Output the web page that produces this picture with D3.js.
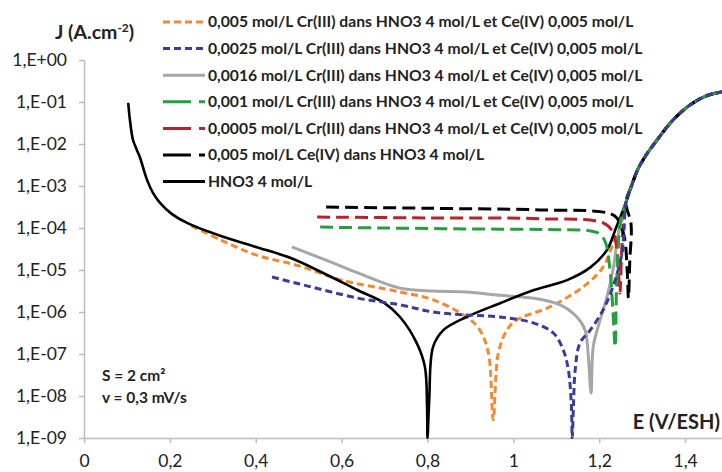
<!DOCTYPE html>
<html><head><meta charset="utf-8">
<script src="https://cdn.jsdelivr.net/npm/d3@7"></script>
<style>body{margin:0;background:#fff}svg{display:block}</style>
</head><body><svg id="c" width="722" height="472"></svg>
<script>
// ---- data (E in V/ESH, J in A/cm2) ----
const xTicks = [0, 0.2, 0.4, 0.6, 0.8, 1, 1.2, 1.4];
const xTickLabels = ["0", "0,2", "0,4", "0,6", "0,8", "1", "1,2", "1,4"];
const yTicks = [1, 1e-1, 1e-2, 1e-3, 1e-4, 1e-5, 1e-6, 1e-7, 1e-8, 1e-9];
const yTickLabels = ["1,E+00", "1,E-01", "1,E-02", "1,E-03", "1,E-04", "1,E-05", "1,E-06", "1,E-07", "1,E-08", "1,E-09"];

const seriesNames = [
  "0,005 mol/L Cr(III) dans HNO3 4 mol/L et Ce(IV) 0,005 mol/L",
  "0,0025 mol/L Cr(III) dans HNO3 4 mol/L et Ce(IV) 0,005 mol/L",
  "0,0016 mol/L Cr(III) dans HNO3 4 mol/L et Ce(IV) 0,005 mol/L",
  "0,001 mol/L Cr(III) dans HNO3 4 mol/L et Ce(IV) 0,005 mol/L",
  "0,0005 mol/L Cr(III) dans HNO3 4 mol/L et Ce(IV) 0,005 mol/L",
  "0,005 mol/L Ce(IV) dans HNO3 4 mol/L",
  "HNO3 4 mol/L"
];

// shared anodic branch
const anodicE = [1.262, 1.275, 1.29, 1.31, 1.335, 1.37, 1.41, 1.45, 1.49, 1.53];
const anodicJ = [3.98e-4, 1e-3, 2.51e-3, 5.62e-3, 1.26e-2, 3.55e-2, 8.3e-2, 1.41e-1, 1.78e-1, 2.1e-1];

const cr005E = [0.25, 0.32, 0.40, 0.50, 0.60, 0.736, 0.813, 0.891, 0.922, 0.942, 0.953, 0.965, 0.985, 1.008, 1.085, 1.163, 1.209, 1.233, 1.249];
const cr005J = [1.12e-4, 5.1e-5, 2.29e-5, 1.26e-5, 5.75e-6, 3.0e-6, 1.95e-6, 7.6e-7, 3.7e-7, 1.05e-7, 2.7e-9, 1.05e-7, 3.7e-7, 6.5e-7, 1.32e-6, 4.0e-6, 1.17e-5, 4.4e-5, 1.07e-4];

const cr0025E = [0.438, 0.50, 0.638, 0.736, 0.813, 0.891, 0.969, 1.046, 1.093, 1.116, 1.128, 1.135, 1.137, 1.140, 1.144, 1.155, 1.179, 1.209, 1.232, 1.253, 1.258];
const cr0025J = [6.8e-6, 4.7e-6, 2.14e-6, 1.48e-6, 1.0e-6, 8.5e-7, 7.6e-7, 5.5e-7, 3.16e-7, 1.26e-7, 4.2e-8, 6.3e-9, 1e-9, 6.3e-9, 4.2e-8, 1.82e-7, 3.7e-7, 1.12e-6, 4.0e-6, 2.5e-5, 1e-4];

const cr0016E = [0.484, 0.58, 0.638, 0.736, 0.813, 0.891, 0.969, 1.046, 1.109, 1.148, 1.167, 1.174, 1.181, 1.186, 1.202, 1.218, 1.232, 1.242, 1.252];
const cr0016J = [3.55e-5, 1.48e-5, 8.5e-6, 3.7e-6, 3.16e-6, 3.0e-6, 2.5e-6, 2.14e-6, 1.48e-6, 7.6e-7, 3.7e-7, 1.05e-7, 1.17e-8, 1.48e-7, 6.5e-7, 2.3e-6, 1e-5, 5.1e-5, 1.58e-4];

const cr001E = [0.55, 0.70, 0.90, 1.10, 1.18, 1.202, 1.215, 1.225, 1.232, 1.237, 1.240, 1.244, 1.25];
const cr001J = [1.05e-4, 1e-4, 9.5e-5, 9.1e-5, 8.5e-5, 7.1e-5, 4.4e-5, 1e-5, 1e-6, 1.48e-7, 3.16e-6, 3.16e-5, 1.58e-4];

const cr0005E = [0.543, 0.80, 1.062, 1.209, 1.232, 1.242, 1.248, 1.252, 1.256];
const cr0005J = [1.82e-4, 1.74e-4, 1.66e-4, 1.32e-4, 7.9e-5, 2.5e-5, 2.8e-6, 2.5e-5, 1.26e-4];

const ceE = [0.564, 0.80, 1.062, 1.218, 1.241, 1.258, 1.265, 1.268, 1.271, 1.274];
const ceJ = [3.16e-4, 2.95e-4, 2.7e-4, 2.3e-4, 1.74e-4, 6.3e-5, 1e-5, 2.14e-6, 1.58e-5, 1.26e-4];

const hno3E = [0.103, 0.107, 0.114, 0.123, 0.13, 0.147, 0.161, 0.177, 0.205, 0.24, 0.324, 0.40, 0.48, 0.557, 0.638, 0.70, 0.736, 0.775, 0.794, 0.799, 0.80, 0.804, 0.813, 0.837, 0.891, 0.969, 1.046, 1.125, 1.18, 1.218, 1.24];
const hno3J = [9.55e-2, 3.72e-2, 1.26e-2, 7.24e-3, 4.9e-3, 1.38e-3, 6.76e-4, 3.98e-4, 2.14e-4, 1.32e-4, 6.17e-5, 3.55e-5, 1.95e-5, 8.5e-6, 3.3e-6, 1.62e-6, 7.6e-7, 1.82e-7, 4.9e-8, 5e-9, 1e-9, 7.9e-9, 1.48e-7, 3.7e-7, 7.6e-7, 1.62e-6, 3.3e-6, 5.75e-6, 1.17e-5, 3.0e-5, 1.07e-4];

const seriesColors = ["#f5892f", "#3b3b9c", "#a6a6a6", "#22a03c", "#b8232a", "#000000", "#000000"];

// ---- build ----
const svg = d3.select("#c");
const x = d3.scaleLinear().domain([0, 1.6]).range([84, 771]);
const y = d3.scaleLog().domain([1e-9, 1]).range([438, 60]);
const FONT = "Lato, 'Open Sans', sans-serif";

const styles = [
  {w: 3, dash: "7,4", legDash: "7,4"},
  {w: 3, dash: "7,4", legDash: "7,4"},
  {w: 3, dash: null, legDash: null},
  {w: 3, dash: "13,6", legDash: "28,8"},
  {w: 3, dash: "13,6", legDash: "28,8"},
  {w: 3, dash: "13,6", legDash: "28,8"},
  {w: 2.6, dash: null, legDash: null}
];

const seriesE = [cr005E, cr0025E, cr0016E, cr001E, cr0005E, ceE, hno3E];
const seriesJ = [cr005J, cr0025J, cr0016J, cr001J, cr0005J, ceJ, hno3J];

// axes
const axisCol = "#bdbdbd";
const yAxis = d3.axisLeft(y).tickValues(yTicks).tickFormat((d, i) => yTickLabels[i]).tickSize(5).tickPadding(12);
const gy = svg.append("g").attr("transform", "translate(84,0)").call(yAxis);
gy.select(".domain").attr("stroke", axisCol).attr("stroke-width", 1.5).attr("d", "M0.5,60V438");
gy.selectAll(".tick line").attr("stroke", axisCol).attr("stroke-width", 1.5);
gy.selectAll(".tick text").attr("font-family", FONT).attr("font-size", 17.5).attr("fill", "#222");

const xAxis = d3.axisBottom(x).tickValues(xTicks).tickFormat((d, i) => xTickLabels[i]).tickSize(5).tickPadding(12).tickSizeOuter(0);
const gx = svg.append("g").attr("transform", "translate(0,438)").call(xAxis);
gx.select(".domain").attr("stroke", axisCol).attr("stroke-width", 1.5);
gx.selectAll(".tick line").attr("stroke", axisCol).attr("stroke-width", 1.5);
gx.selectAll(".tick text").attr("font-family", FONT).attr("font-size", 17.5).attr("fill", "#222");

svg.append("clipPath").attr("id", "pc").append("rect").attr("x", 84).attr("y", 55).attr("width", 700).attr("height", 384);

const line = d3.line().x(d => x(d[0])).y(d => y(d[1])).curve(d3.curveCatmullRom.alpha(0.5));
const drawOrder = [0, 2, 4, 5, 6, 3, 1];
const plot = svg.append("g").attr("clip-path", "url(#pc)");
drawOrder.forEach(i => {
  const pts = seriesE[i].map((e, k) => [e, seriesJ[i][k]]).concat(anodicE.map((e, k) => [e, anodicJ[k]]));
  plot.append("path").datum(pts).attr("d", line)
    .attr("fill", "none").attr("stroke", seriesColors[i]).attr("stroke-width", styles[i].w)
    .attr("stroke-dasharray", styles[i].dash).attr("stroke-linejoin", "round");
});

// legend
const leg = svg.append("g");
seriesNames.forEach((n, i) => {
  const yy = 22 + i * 26.6;
  leg.append("line").attr("x1", 163).attr("x2", 205).attr("y1", yy).attr("y2", yy)
    .attr("stroke", seriesColors[i]).attr("stroke-width", 3).attr("stroke-dasharray", styles[i].legDash);
  leg.append("text").attr("x", 208).attr("y", yy).attr("dy", "0.35em")
    .attr("font-family", FONT).attr("font-weight", "bold").attr("font-size", 15.7)
    .attr("fill", "#222").text(n);
});

// titles
const ttl = svg.append("text").attr("x", 55).attr("y", 39).attr("font-family", FONT)
  .attr("font-weight", "bold").attr("font-size", 19.5).attr("fill", "#222");
ttl.append("tspan").text("J (A.cm");
ttl.append("tspan").attr("dy", -7).attr("font-size", 12).text("-2");
ttl.append("tspan").attr("dy", 7).text(")");

svg.append("text").attr("x", 720).attr("y", 429).attr("text-anchor", "end").attr("font-family", FONT)
  .attr("font-weight", "bold").attr("font-size", 20).attr("fill", "#222").text("E (V/ESH)");

svg.append("text").attr("x", 102).attr("y", 381).attr("font-family", FONT)
  .attr("font-weight", "bold").attr("font-size", 15.5).attr("fill", "#222").text("S = 2 cm²");
svg.append("text").attr("x", 102).attr("y", 403).attr("font-family", FONT)
  .attr("font-weight", "bold").attr("font-size", 15.5).attr("fill", "#222").text("v = 0,3 mV/s");
</script></body></html>
